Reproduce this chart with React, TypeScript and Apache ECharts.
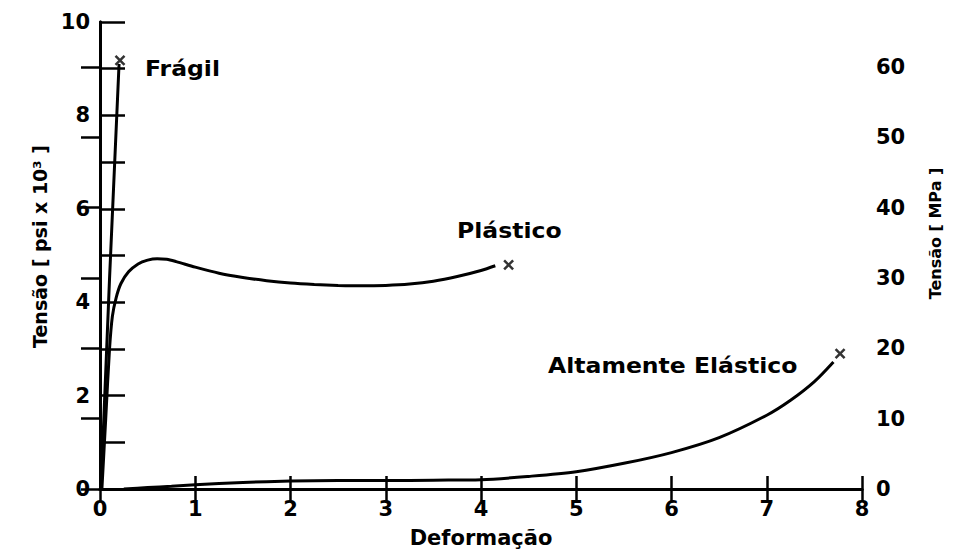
import React, { useEffect, useRef } from "react";
import * as echarts from "echarts";

// Strain (x) and stress in ksi (y)
const fragilX = [0.01, 0.1, 0.2];
const fragilY = [0, 4.5, 9.1];
const fragilEnd = [0.21, 9.18];

const plasticoX = [0.02, 0.06, 0.1, 0.13, 0.17, 0.22, 0.3, 0.4, 0.5, 0.6, 0.7, 0.8, 1.0, 1.25, 1.5, 1.75, 2.0, 2.25, 2.5, 2.75, 3.0, 3.25, 3.5, 3.75, 4.0, 4.15];
const plasticoY = [0, 1.5, 3.0, 3.7, 4.1, 4.4, 4.65, 4.82, 4.9, 4.93, 4.92, 4.87, 4.75, 4.62, 4.53, 4.46, 4.41, 4.38, 4.36, 4.35, 4.36, 4.39, 4.45, 4.55, 4.68, 4.78];
const plasticoEnd = [4.29, 4.8];

const elasticoX = [0.25, 0.5, 0.75, 1.0, 1.5, 2.0, 2.5, 3.0, 3.5, 4.0, 4.5, 5.0, 5.5, 6.0, 6.5, 7.0, 7.25, 7.5, 7.7];
const elasticoY = [0, 0.03, 0.06, 0.09, 0.14, 0.17, 0.18, 0.18, 0.19, 0.2, 0.27, 0.37, 0.55, 0.78, 1.1, 1.58, 1.9, 2.3, 2.72];
const elasticoEnd = [7.77, 2.9];

const curveLabels = ["Frágil", "Plástico", "Altamente Elástico"];

const xTicks = { min: 0, max: 8, interval: 1 };
const psiTicks = { min: 0, max: 10, interval: 2 };
const mpaTicks = { min: 0, max: 66.4, interval: 10 };

const FONT = '"DejaVu Sans", sans-serif';

const pairs = (xs: number[], ys: number[]) => xs.map((x, i) => [x, ys[i]]);

export default function App() {
  const ref = useRef<HTMLDivElement>(null);
  useEffect(() => {
    if (!ref.current) return;
    const chart = echarts.init(ref.current, undefined, { renderer: "svg" });
    const black = "#000";
    const labelStyle = { color: black, fontFamily: FONT, fontWeight: "bold" as const, fontSize: 21 };
    const lineSeries = (name: string, data: number[][], smooth: number | boolean) => ({
      type: "line",
      name,
      data,
      smooth,
      showSymbol: false,
      symbol: "none",
      lineStyle: { color: black, width: 3 },
      xAxisIndex: 0,
      yAxisIndex: 0,
    });
    chart.setOption({
      animation: false,
      backgroundColor: "#fff",
      grid: { left: 100, right: 95, top: 22, bottom: 64 },
      xAxis: [
        {
          type: "value",
          position: "bottom",
          ...xTicks,
          axisLine: { lineStyle: { color: black, width: 3 } },
          axisTick: { inside: true, length: 13, lineStyle: { color: black, width: 2.5 } },
          axisLabel: { ...labelStyle, margin: 9 },
          splitLine: { show: false },
          name: "Deformação",
          nameLocation: "middle",
          nameGap: 38,
          nameTextStyle: { color: black, fontFamily: FONT, fontWeight: "bold", fontSize: 21 },
        },
        {
          type: "value",
          position: "top",
          ...xTicks,
          axisLine: { lineStyle: { color: black, width: 3 } },
          axisTick: { inside: true, length: 12, lineStyle: { color: black, width: 2.5 } },
          axisLabel: { show: false },
          splitLine: { show: false },
        },
      ],
      yAxis: [
        {
          type: "value",
          position: "left",
          ...psiTicks,
          axisLine: { show: true, lineStyle: { color: black, width: 3 } },
          axisTick: { show: true, inside: true, length: 25, lineStyle: { color: black, width: 2.5 } },
          minorTick: { show: true, splitNumber: 2, length: 25, lineStyle: { color: black, width: 2.5 } },
          axisLabel: { ...labelStyle, margin: 10 },
          splitLine: { show: false },
          name: "Tensão [ psi x 10³ ]",
          nameLocation: "middle",
          nameRotate: 90,
          nameGap: 47,
          nameTextStyle: { color: black, fontFamily: FONT, fontWeight: "bold", fontSize: 19, padding: [0, 0, 0, 18] },
        },
        {
          type: "value",
          position: "right",
          ...mpaTicks,
          axisLine: { show: true, lineStyle: { color: black, width: 3 } },
          axisTick: { show: true, inside: true, length: 19, lineStyle: { color: black, width: 2.5 } },
          axisLabel: { ...labelStyle, margin: 14, showMaxLabel: false },
          splitLine: { show: false },
          name: "Tensão [ MPa ]",
          nameLocation: "middle",
          nameRotate: 90,
          nameGap: 65,
          nameTextStyle: { color: black, fontFamily: FONT, fontWeight: "bold", fontSize: 16, padding: [0, 0, 0, 44] },
        },
      ],
      series: [
        lineSeries(curveLabels[0], pairs(fragilX, fragilY), false),
        lineSeries(curveLabels[1], pairs(plasticoX, plasticoY), 0.3),
        lineSeries(curveLabels[2], pairs(elasticoX, elasticoY), 0.3),
        {
          type: "scatter",
          name: "ruptura",
          data: [fragilEnd, plasticoEnd, elasticoEnd],
          symbol: "path://M0,0L10,10M10,0L0,10",
          symbolSize: 9,
          itemStyle: { color: "transparent", borderColor: black, borderWidth: 2.5 },
          xAxisIndex: 0,
          yAxisIndex: 0,
        },
      ],
      graphic: [
        {
          type: "text",
          x: 145,
          y: 68,
          scaleX: 1.07,
          style: { text: curveLabels[0], fill: black, fontFamily: FONT, fontWeight: "bold", fontSize: 22, align: "left", verticalAlign: "middle" },
        },
        {
          type: "text",
          x: 457,
          y: 230,
          scaleX: 1.07,
          style: { text: curveLabels[1], fill: black, fontFamily: FONT, fontWeight: "bold", fontSize: 22, align: "left", verticalAlign: "middle" },
        },
        {
          type: "text",
          x: 548,
          y: 365,
          scaleX: 1.07,
          style: { text: curveLabels[2], fill: black, fontFamily: FONT, fontWeight: "bold", fontSize: 22, align: "left", verticalAlign: "middle" },
        },
      ],
    });
    return () => chart.dispose();
  }, []);
  return (
    <div
      ref={ref}
      style={{ position: "fixed", left: 0, top: 0, width: 957, height: 553, background: "#fff" }}
    />
  );
}
